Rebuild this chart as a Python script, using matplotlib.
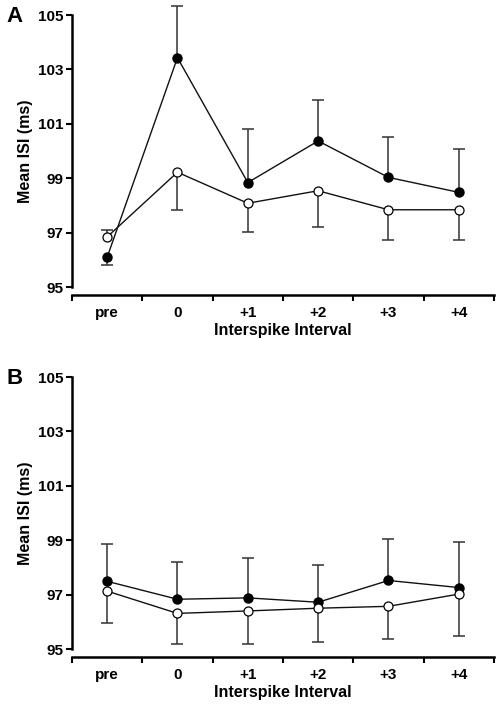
import matplotlib
matplotlib.use('Agg')
import matplotlib.pyplot as plt
from matplotlib.ticker import FixedLocator, NullFormatter

plt.rcParams['font.family'] = 'Liberation Sans'
plt.rcParams['font.weight'] = 'bold'

categories = ['pre', '0', '+1', '+2', '+3', '+4']

# panel A
a_filled = [96.09, 103.43, 98.84, 100.37, 99.03, 98.48]
a_filled_err = [0.27, 1.91, 1.97, 1.52, 1.48, 1.61]
a_filled_dir = [-1, 1, 1, 1, 1, 1]
a_open = [96.84, 99.22, 98.08, 98.54, 97.84, 97.84]
a_open_err = [0.25, 1.40, 1.07, 1.34, 1.11, 1.11]
a_open_dir = [1, -1, -1, -1, -1, -1]

# panel B
b_filled = [97.49, 96.83, 96.88, 96.72, 97.52, 97.26]
b_filled_err = [1.36, 1.37, 1.46, 1.38, 1.53, 1.69]
b_filled_dir = [1, 1, 1, 1, 1, 1]
b_open = [97.13, 96.31, 96.40, 96.50, 96.57, 97.02]
b_open_err = [1.19, 1.14, 1.22, 1.25, 1.21, 1.53]
b_open_dir = [-1, -1, -1, -1, -1, -1]


def one_sided_bars(ax, x, y, err, d):
    # error bar only on one side of the mean, cap at the far end
    ends = [v + s * e for v, e, s in zip(y, err, d)]
    ax.vlines(x, y, ends, color='#333333', lw=1.1, zorder=2, clip_on=False)
    ax.plot(x, ends, ls='none', marker='_', ms=9, mew=1.1, color='#333333',
            zorder=2, clip_on=False)


def panel(ax, filled, ferr, fdir, opn, oerr, odir, letter):
    x = list(range(len(categories)))
    one_sided_bars(ax, x, filled, ferr, fdir)
    one_sided_bars(ax, x, opn, oerr, odir)
    ax.plot(x, filled, '-o', color='#111111', lw=1.0, ms=6.5, mfc='black', mec='black',
            clip_on=False, zorder=3)
    ax.plot(x, opn, '-o', color='#111111', lw=1.0, ms=6.5, mfc='white', mec='black',
            mew=0.9, clip_on=False, zorder=4)

    ax.set_xlim(-0.5, 5.5)
    ax.set_ylim(95, 105)
    ax.set_yticks([95, 97, 99, 101, 103, 105])
    ax.xaxis.set_major_locator(FixedLocator([i - 0.5 for i in range(7)]))
    ax.xaxis.set_major_formatter(NullFormatter())
    ax.xaxis.set_minor_locator(FixedLocator(x))
    ax.set_xticklabels(categories, minor=True)
    ax.tick_params(axis='x', which='major', direction='out', length=4, width=1.5)
    ax.tick_params(axis='x', which='minor', length=0, pad=8, labelsize=11)
    ax.tick_params(axis='y', direction='out', length=4, width=1.5, labelsize=11, pad=2)

    for s in ['top', 'right']:
        ax.spines[s].set_visible(False)
    ax.spines['left'].set_linewidth(1.8)
    ax.spines['bottom'].set_linewidth(1.8)
    ax.spines['bottom'].set_position(('outward', 6))

    ax.set_ylabel('Mean ISI (ms)', fontsize=11.5, fontweight='bold', labelpad=4)
    ax.set_xlabel('Interspike Interval', fontsize=11.5, fontweight='bold', labelpad=2)
    ax.text(-0.135, 0.995, letter, transform=ax.transAxes, fontsize=16,
            fontweight='bold', va='center', ha='center')


fig = plt.figure(figsize=(4.96, 7.08), dpi=100)
ax1 = fig.add_axes([0.145, 0.5946, 0.851, 0.3842])
ax2 = fig.add_axes([0.145, 0.0833, 0.851, 0.3842])

panel(ax1, a_filled, a_filled_err, a_filled_dir, a_open, a_open_err, a_open_dir, 'A')
panel(ax2, b_filled, b_filled_err, b_filled_dir, b_open, b_open_err, b_open_dir, 'B')

fig.savefig('out.png', dpi=100)
